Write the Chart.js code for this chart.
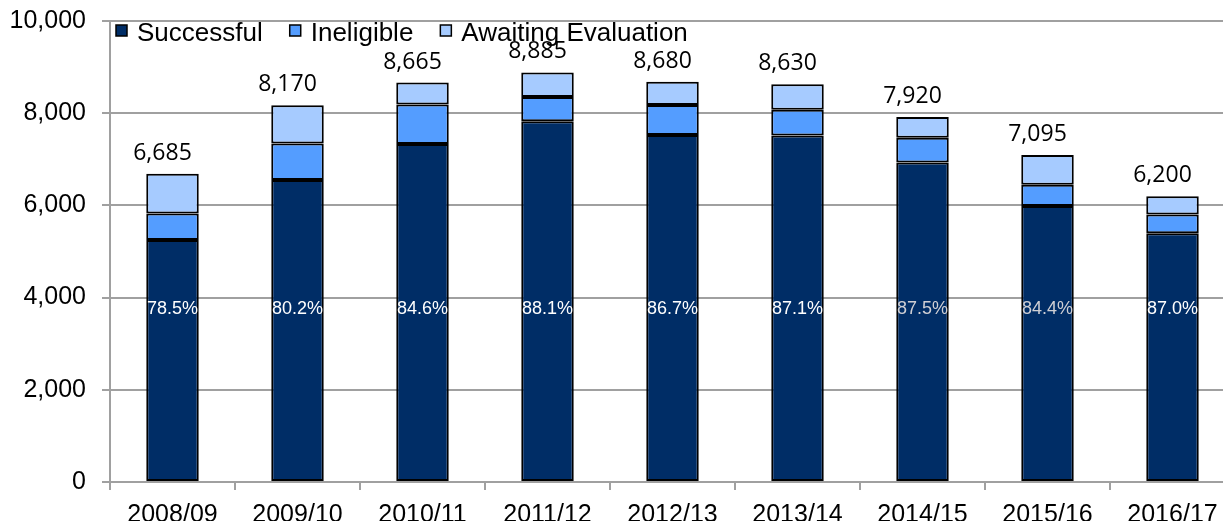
<!DOCTYPE html>
<html>
<head>
<meta charset="utf-8">
<script src="https://cdn.jsdelivr.net/npm/chart.js@4.4.1/dist/chart.umd.min.js"></script>
<style>
  html, body { margin: 0; padding: 0; background: #fff; overflow: hidden; }
  #wrap { position: absolute; left: 0; top: 0; width: 1240px; height: 545px; }
</style>
</head>
<body>
<div id="wrap"><canvas id="chart"></canvas></div>
<script>
// values
const years = ['2008/09', '2009/10', '2010/11', '2011/12', '2012/13', '2013/14', '2014/15', '2015/16', '2016/17'];
const successful = [5248, 6552, 7331, 7828, 7526, 7517, 6930, 5988, 5394];
const ineligible = [575, 793, 860, 521, 650, 558, 540, 462, 406];
const awaiting = [862, 825, 474, 536, 504, 555, 450, 645, 400];
const totals = [6685, 8170, 8665, 8885, 8680, 8630, 7920, 7095, 6200];
const pctLabels = ['78.5%', '80.2%', '84.6%', '88.1%', '86.7%', '87.1%', '87.5%', '84.4%', '87.0%'];

const gridGrey = '#a0a0a0';
const arial = '"Liberation Sans", Arial, sans-serif';

// legend sits inside the plot, top left
const insideLegend = {
    id: 'insideLegend',
    afterDraw(chart) {
        const ctx = chart.ctx;
        const area = chart.chartArea;
        let x = area.left + 6;
        const base = area.top + 20;
        ctx.save();
        ctx.font = '26px ' + arial;
        ctx.textBaseline = 'alphabetic';
        chart.data.datasets.forEach(ds => {
            ctx.fillStyle = ds.backgroundColor;
            ctx.fillRect(x, base - 16, 11, 11);
            ctx.strokeStyle = '#000';
            ctx.lineWidth = 1.5;
            ctx.strokeRect(x, base - 16, 11, 11);
            ctx.fillStyle = '#000';
            ctx.fillText(ds.label, x + 21, base);
            x += 21 + ctx.measureText(ds.label).width + 27;
        });
        ctx.restore();
    }
};

// totals above the stacks, share of successful inside the dark bar
const barLabels = {
    id: 'barLabels',
    afterDatasetsDraw(chart) {
        const ctx = chart.ctx;
        const yScale = chart.scales.y;
        const topMeta = chart.getDatasetMeta(2);
        const baseMeta = chart.getDatasetMeta(0);
        ctx.save();
        ctx.textAlign = 'center';
        totals.forEach((t, i) => {
            const bar = topMeta.data[i];
            ctx.font = '23px "Open Sans", sans-serif';
            ctx.fillStyle = '#000';
            ctx.textBaseline = 'alphabetic';
            ctx.fillText(t.toLocaleString('en-US'), bar.x - 10, bar.y - 14);

            ctx.font = '18px ' + arial;
            ctx.fillStyle = (i === 6 || i === 7) ? '#cfcfd4' : '#fff';
            ctx.textBaseline = 'middle';
            ctx.fillText(pctLabels[i], baseMeta.data[i].x, yScale.getPixelForValue(3750));
        });
        ctx.restore();
    }
};

const ctx = document.getElementById('chart').getContext('2d');
new Chart(ctx, {
    type: 'bar',
    data: {
        labels: years,
        datasets: [
            { label: 'Successful', data: successful, backgroundColor: '#002d66' },
            { label: 'Ineligible', data: ineligible, backgroundColor: '#549dff' },
            { label: 'Awaiting Evaluation', data: awaiting, backgroundColor: '#a6cbff' }
        ]
    },
    options: {
        responsive: true,
        maintainAspectRatio: false,
        animation: false,
        layout: { padding: { top: 21, right: 5, bottom: 0, left: 0 } },
        datasets: {
            bar: {
                borderColor: '#000',
                borderWidth: 2,
                borderSkipped: false,
                barPercentage: 0.42,
                categoryPercentage: 1
            }
        },
        plugins: {
            legend: { display: false },
            tooltip: { enabled: false }
        },
        scales: {
            x: {
                stacked: true,
                afterFit: s => { s.height = 63; s.paddingLeft = 0; s.paddingRight = 0; },
                grid: { drawOnChartArea: false, drawTicks: true, tickLength: 8, color: gridGrey, lineWidth: 2 },
                border: { color: gridGrey, width: 2 },
                ticks: { color: '#000', font: { family: arial, size: 25 }, padding: 10, maxRotation: 0 }
            },
            y: {
                stacked: true,
                min: 0,
                max: 10000,
                afterFit: s => { s.width = 110; s.paddingTop = 0; s.paddingBottom = 0; },
                grid: { color: gridGrey, lineWidth: 2, tickLength: 8 },
                border: { color: gridGrey, width: 2 },
                ticks: {
                    stepSize: 2000,
                    color: '#000',
                    padding: 16,
                    font: { family: arial, size: 25 },
                    callback: v => v.toLocaleString('en-US')
                }
            }
        }
    },
    plugins: [insideLegend, barLabels]
});
</script>
</body>
</html>
